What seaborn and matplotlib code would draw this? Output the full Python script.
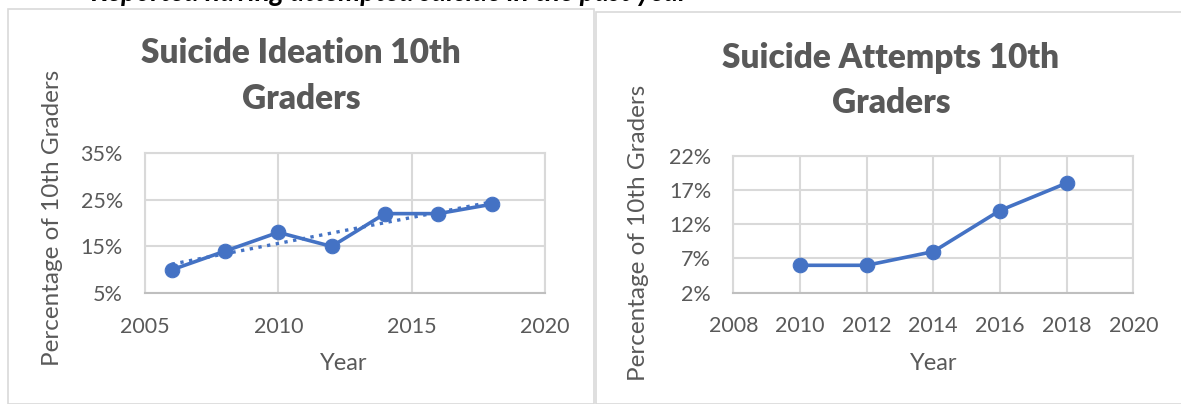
import matplotlib
matplotlib.use("Agg")
import matplotlib.pyplot as plt
import matplotlib.patches as patches
from matplotlib.ticker import FuncFormatter
import seaborn as sns

# Veriler
ideation_years = [2006, 2008, 2010, 2012, 2014, 2016, 2018]
ideation_pct = [10, 14, 18, 15, 22, 22, 24]

attempt_years = [2010, 2012, 2014, 2016, 2018]
attempt_pct = [6, 6, 8, 14, 18]

ideation_yticks = [5, 15, 25, 35]
ideation_xticks = [2005, 2010, 2015, 2020]
attempt_yticks = [2, 7, 12, 17, 22]
attempt_xticks = [2008, 2010, 2012, 2014, 2016, 2018, 2020]

blue = "#4472C4"
grey_text = "#595959"
grid_col = "#d9d9d9"

sns.set_style("white")
plt.rcParams["font.family"] = ["Lato", "DejaVu Sans"]

fig = plt.figure(figsize=(11.81, 4.04), dpi=100)
W, H = 1181, 404


def px_axes(x0, y0, x1, y1):
    return fig.add_axes([x0 / W, 1 - y1 / H, (x1 - x0) / W, (y1 - y0) / H])


def style_axes(ax, xticks, yticks):
    ax.set_xlim(xticks[0], xticks[-1])
    ax.set_ylim(yticks[0], yticks[-1])
    ax.set_xticks(xticks)
    ax.set_yticks(yticks)
    ax.yaxis.set_major_formatter(FuncFormatter(lambda v, p: f"{v:.0f}%"))
    ax.grid(True, color=grid_col, linewidth=1.5)
    ax.set_axisbelow(True)
    for s in ax.spines.values():
        s.set_color(grid_col)
        s.set_linewidth(1.5)
    ax.spines["bottom"].set_color("#bfbfbf")
    ax.tick_params(length=0, labelsize=15.5, colors=grey_text)
    ax.tick_params(axis="y", pad=16)
    ax.tick_params(axis="x", pad=17)
    ax.set_xlabel("")
    ax.set_ylabel("")


# ustte kirpilmis baslik (referansta sadece alt kismi gorunuyor)
fig.text(390 / W, 1 - 1 / H, "Reported having attempted suicide in the past year",
         ha="center", va="baseline", fontsize=20, fontweight="bold",
         fontstyle="italic", color="black")

# grafik cerceveleri
fig.patches.append(patches.Rectangle((8 / W, 0), (594 - 8) / W, 1 - 9 / H,
                                     transform=fig.transFigure, fill=False,
                                     edgecolor=grid_col, linewidth=1.2))
fig.patches.append(patches.Rectangle((596 / W, 0), 1 - 596 / W + 0.01, 1 - 12 / H,
                                     transform=fig.transFigure, fill=False,
                                     edgecolor=grid_col, linewidth=1.2))

# Sol grafik: Suicide Ideation
ax1 = px_axes(145, 152.7, 545, 293.3)
sns.regplot(x=ideation_years, y=ideation_pct, ax=ax1, scatter=False, ci=None,
            line_kws=dict(color=blue, linestyle=":", linewidth=2.4))
sns.lineplot(x=ideation_years, y=ideation_pct, ax=ax1, color=blue, linewidth=2.6,
             marker="o", markersize=10.5, markeredgecolor=blue)
style_axes(ax1, ideation_xticks, ideation_yticks)

title_kw = dict(ha="center", va="baseline", fontsize=24, fontweight="heavy",
                color=grey_text)
fig.text(301 / W, 1 - 63 / H, "Suicide Ideation 10th", **title_kw)
fig.text(301 / W, 1 - 109 / H, "Graders", **title_kw)
fig.text(53 / W, 1 - 218 / H, "Percentage of 10th Graders", rotation=90,
         ha="center", va="center", fontsize=17.5, color=grey_text)
fig.text(344 / W, 1 - 363 / H, "Year", ha="center", va="center",
         fontsize=17, color=grey_text)

# Sag grafik: Suicide Attempts
ax2 = px_axes(733.3, 155.7, 1133.3, 292.7)
sns.lineplot(x=attempt_years, y=attempt_pct, ax=ax2, color=blue, linewidth=2.6,
             marker="o", markersize=10.5, markeredgecolor=blue)
style_axes(ax2, attempt_xticks, attempt_yticks)

fig.text(891 / W, 1 - 68 / H, "Suicide Attempts 10th", **title_kw)
fig.text(891 / W, 1 - 113 / H, "Graders", **title_kw)
fig.text(638 / W, 1 - 233 / H, "Percentage of 10th Graders", rotation=90,
         ha="center", va="center", fontsize=17.5, color=grey_text)
fig.text(934 / W, 1 - 363 / H, "Year", ha="center", va="center",
         fontsize=17, color=grey_text)

fig.savefig("out.png", dpi=100)
